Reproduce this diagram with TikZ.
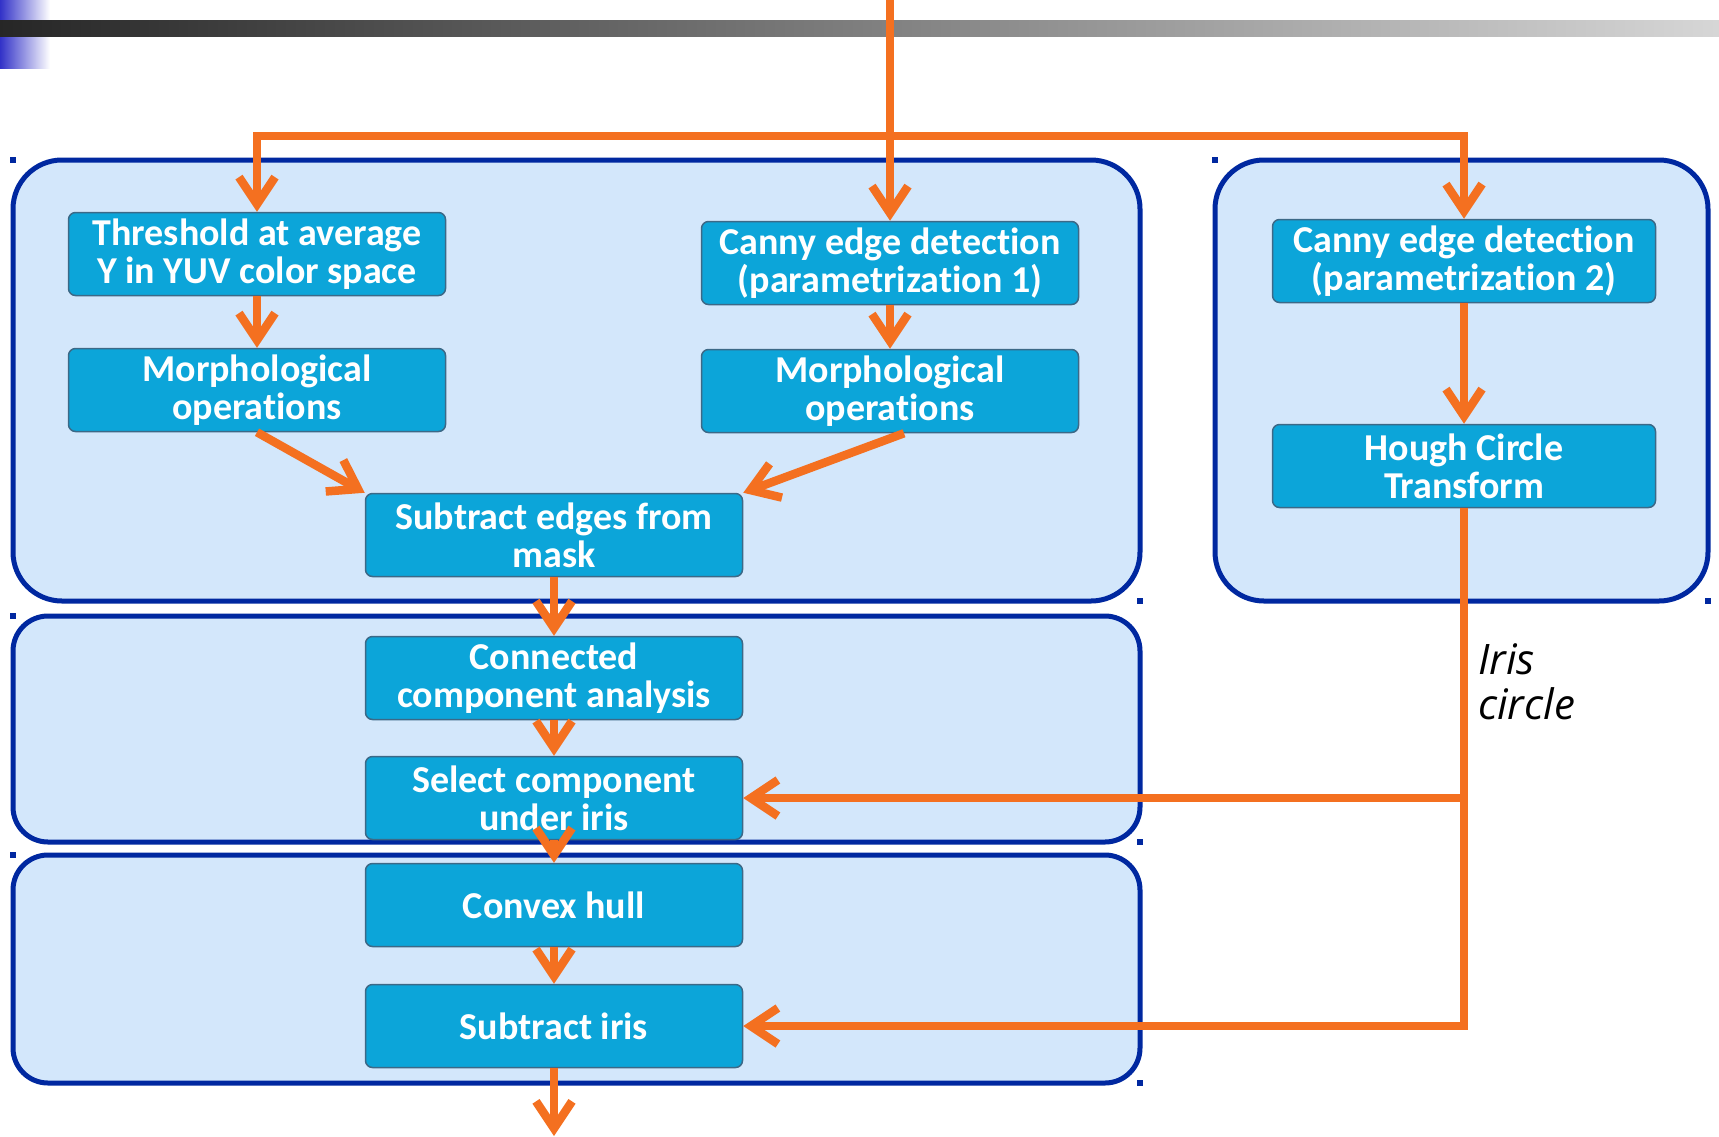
\documentclass[tikz,border=0pt]{standalone}
\usepackage{fontspec}
\setmainfont{Carlito}[Ligatures={NoCommon}]
\newfontfamily\labelfont{Open Sans}
\usetikzlibrary{arrows.meta,positioning}

\definecolor{flowcol}{RGB}{244,112,32}
\definecolor{panelfill}{RGB}{211,231,251}
\definecolor{panelline}{RGB}{0,40,160}
\definecolor{stepfill}{RGB}{12,165,217}
\definecolor{stepline}{RGB}{60,105,135}
\definecolor{barblue}{RGB}{50,50,200}

\tikzset{
  stepbox/.style={rectangle, rounded corners=7pt, draw=stepline, line width=1.5pt,
    fill=stepfill, text=white, font=\bfseries\fontsize{38}{38}\selectfont,
    align=center, minimum width=377pt, minimum height=83pt, inner sep=0pt},
  panel/.style={draw=panelline, fill=panelfill, line width=5pt},
  flow/.style={draw=flowcol, line width=8.5pt, -{Straight Barb[length=27pt,width=36pt]}},
}

\begin{document}
\begin{tikzpicture}[x=1pt,y=-1pt]
\useasboundingbox (0,0) rectangle (1719,1136);

% header bar
\shade[left color=barblue, right color=white] (0,0) rectangle (50,68);
\shade[left color=black!85, right color=black!16] (0,20) rectangle (1719,36);

% panels
\draw[panel, rounded corners=49pt] (13,160) rectangle (1140,601);
\draw[panel, rounded corners=49pt] (1215,160) rectangle (1708,601);
\draw[panel, rounded corners=35pt] (13,616) rectangle (1140,842);
\draw[panel, rounded corners=35pt] (13,855) rectangle (1140,1083);
\foreach \p in {(13,160),(1140,601),(13,616),(1140,842),(13,855),(1140,1083),(1215,160),(1708,601)}
  \fill[panelline] \p ++(-3,-3) rectangle ++(6,6);

% mask branch
\node[stepbox] (thresh) at (257,254) {Threshold at average\\Y in YUV color space};
\node[stepbox] (morph1) at (257,390) {Morphological\\operations};

% edge branch
\node[stepbox] (canny1) at (890,263) {Canny edge detection\\(parametrization 1)};
\node[stepbox] (morph2) at (890,391) {Morphological\\operations};

% combine
\node[stepbox] (subedge) at (554,535) {Subtract edges from\\mask};
\node[stepbox] (conncomp) at (554,678) {Connected\\component analysis};
\node[stepbox] (select) at (554,798) {Select component\\under iris};
\node[stepbox] (hull) at (554,905) {Convex hull};
\node[stepbox] (subiris) at (554,1026) {Subtract iris};

% iris branch
\node[stepbox, minimum width=383pt] (canny2) at (1464,261) {Canny edge detection\\(parametrization 2)};
\node[stepbox, minimum width=383pt] (hough) at (1464,466) {Hough Circle\\Transform};

\node[font=\labelfont\itshape\fontsize{42}{45}\selectfont, align=left, anchor=north west, inner sep=0pt] (irislabel) at (1478,643) {Iris\\circle};

% input and split
\coordinate (input) at (890,0);
\coordinate (split) at (890,136);
\draw[flow] (input) -- (canny1);
\draw[flow] (split) -| (thresh);
\draw[flow] (split) -| (canny2);

\draw[flow] (thresh) -- (morph1);
\draw[flow] (canny1) -- (morph2);
\draw[flow] (morph1.south) -- (subedge.north west);
\draw[flow] ([xshift=14pt]morph2.south) -- (subedge.north east);
\draw[flow] (subedge) -- (conncomp);
\draw[flow] (conncomp) -- (select);
\draw[flow] (select) -- (hull);
\draw[flow] (hull) -- (subiris);

\draw[flow] (canny2) -- (hough);
\draw[flow] (hough) |- (subiris);
\coordinate (branch) at (hough |- select);
\draw[flow] (branch) -- (select);

% output
\coordinate (output) at (554,1136);
\draw[flow] (subiris) -- (output);

\end{tikzpicture}
\end{document}
